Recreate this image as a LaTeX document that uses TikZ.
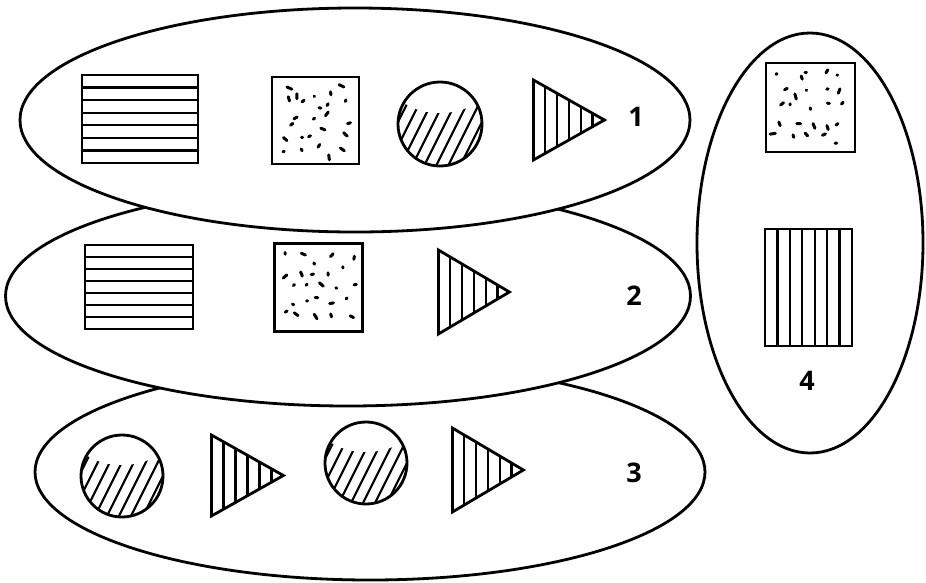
\documentclass[tikz,border=0pt]{standalone}
\usepackage{fontspec}
\setsansfont{Open Sans}
\usetikzlibrary{shapes.geometric, calc}

\begin{document}
\begin{tikzpicture}[
  x=1pt, y=-1pt,
  blob/.style={ellipse, draw, fill=white, line width=2.8pt, inner sep=0pt},
  hbars/.style={rectangle, draw, line width=2.8pt, inner sep=0pt, path picture={
      \foreach \k in {1,...,6}
        \draw[line width=2.4pt] ($(path picture bounding box.north west)!\k/7!(path picture bounding box.south west)$) -- ($(path picture bounding box.north east)!\k/7!(path picture bounding box.south east)$);
    }},
  vbars/.style={rectangle, draw, line width=2.8pt, inner sep=0pt, path picture={
      \foreach \k in {1,...,6}
        \draw[line width=2.4pt] ($(path picture bounding box.north west)!\k/7!(path picture bounding box.north east)$) -- ($(path picture bounding box.south west)!\k/7!(path picture bounding box.south east)$);
    }},
  specks/.style={rectangle, draw, line width=2.8pt, inner sep=0pt, path picture={
      \foreach \i in {-2,...,2}
        \foreach \j in {-2,...,2}{
          \pgfmathsetmacro{\px}{\i*15+rand*6}
          \pgfmathsetmacro{\py}{\j*15+rand*6}
          \pgfmathsetmacro{\pa}{rnd*360}
          \pgfmathsetmacro{\pl}{0.5+rnd*5}
          \draw[line width=3pt, line cap=round] ($(path picture bounding box.center)+(\px,\py)$) -- ++(\pa:\pl);
        }
    }},
  hatched/.style={circle, draw, line width=2.8pt, inner sep=0pt, path picture={
      \foreach \k in {-6,...,5}
        \draw[line width=2.2pt] ($(path picture bounding box.center)+(\k*12-20,50)$) -- ++(50,-100);
      \fill[white] ($(path picture bounding box.center)+(0,-38)$) ellipse [x radius=46, y radius=27];
    }},
  wedge/.style={isosceles triangle, isosceles triangle stretches, shape border rotate=0,
    draw, line width=2.8pt, inner sep=0pt, anchor=lower side, path picture={
      \foreach \k in {1,...,5}
        \draw[line width=2.4pt] ($(path picture bounding box.north west)!\k/6!(path picture bounding box.north east)$) -- ($(path picture bounding box.south west)!\k/6!(path picture bounding box.south east)$);
    }},
  num/.style={font=\sffamily\bfseries\fontsize{27}{30}\selectfont, inner sep=0pt}
]
  \useasboundingbox (0,0) rectangle (926,582);
  \pgfmathsetseed{42}

  % Sets (lower ones first)
  \node[blob, minimum width=670pt, minimum height=216pt] (e3) at (370,472) {};
  \node[blob, minimum width=685pt, minimum height=220pt] (e2) at (348,296) {};
  \node[blob, minimum width=670pt, minimum height=224pt] (e1) at (355,120) {};
  \node[blob, minimum width=226pt, minimum height=420pt] (e4) at (810,243) {};

  % Set 1
  \node[hbars, minimum width=116pt, minimum height=88pt] (r1) at (140,119) {};
  \node[specks, minimum size=87pt] (s1) at (315.5,120.5) {};
  \node[hatched, minimum size=84pt] (c1) at (440,124) {};
  \node[wedge, minimum width=80pt, minimum height=71pt] (t1) at (532,120) {};
  \node[num] (l1) at (636,117) {1};

  % Set 2
  \node[hbars, minimum width=108pt, minimum height=84pt] (r2) at (139,287) {};
  \node[specks, minimum size=88pt] (s2) at (318.5,287.5) {};
  \node[wedge, minimum width=84pt, minimum height=71pt] (t2) at (437,292) {};
  \node[num] (l2) at (634,296) {2};

  % Set 3
  \node[hatched, minimum size=82pt] (c3a) at (122,476) {};
  \node[wedge, minimum width=81pt, minimum height=72pt] (t3a) at (210,475.5) {};
  \node[hatched, minimum size=82pt] (c3b) at (366,463) {};
  \node[wedge, minimum width=84pt, minimum height=71pt] (t3b) at (451,470) {};
  \node[num] (l3) at (634,473) {3};

  % Set 4
  \node[specks, minimum size=89pt] (s4) at (810.5,107.5) {};
  \node[vbars, minimum width=87pt, minimum height=117pt] (r4) at (808.5,287.5) {};
  \node[num] (l4) at (807,381) {4};
\end{tikzpicture}
\end{document}
